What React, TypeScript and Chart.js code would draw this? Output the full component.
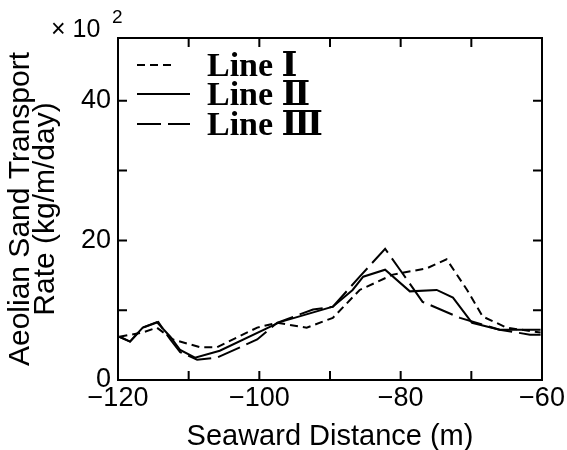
import React, { useEffect, useRef } from "react";
import { Chart, registerables } from "chart.js";

Chart.register(...registerables);

const lineIX = [-119.8, -116.5, -114.5, -112.2, -108.4, -106.0, -100.3, -97.5, -93.3, -89.6, -85.8, -81.1, -76.3, -73.5, -70.6, -68.4, -65.0, -60.2];
const lineIY = [6.2, 6.8, 7.5, 5.8, 4.7, 4.7, 7.5, 8.2, 7.5, 8.9, 12.9, 15.1, 16.0, 17.3, 12.9, 9.1, 7.5, 6.8];

const lineIIX = [-119.8, -118.3, -116.5, -114.5, -112.6, -111.2, -109.1, -105.6, -97.1, -89.6, -86.8, -85.3, -82.2, -78.7, -74.9, -72.6, -69.9, -66.0, -60.2];
const lineIIY = [6.2, 5.5, 7.5, 8.3, 6.2, 4.3, 3.2, 4.2, 8.3, 10.5, 12.9, 14.8, 15.8, 12.7, 12.9, 11.8, 8.2, 7.2, 7.2];

const lineIIIX = [-119.8, -118.3, -116.5, -114.3, -112.6, -111.2, -108.8, -106.0, -100.3, -97.5, -92.4, -89.6, -85.8, -82.2, -80.1, -76.9, -71.6, -66.0, -61.7, -60.2];
const lineIIIY = [6.2, 5.5, 7.5, 8.3, 5.8, 4.0, 2.9, 3.2, 5.8, 8.2, 10.1, 10.5, 14.8, 18.8, 15.8, 11.2, 8.9, 7.2, 6.5, 6.5];

const seriesLabels = ["Line Ⅰ", "Line Ⅱ", "Line Ⅲ"];
const xLabelTicks = [-120, -100, -80, -60];
const yLabelTicks = [0, 20, 40];

const toPoints = (xs: number[], ys: number[]) => xs.map((x, i) => ({ x, y: ys[i] }));

const framePlugin = {
  id: "frameTicks",
  afterDatasetsDraw(chart: any) {
    const { ctx, chartArea, scales } = chart;
    const { left, right, top, bottom } = chartArea;
    ctx.save();
    ctx.strokeStyle = "#000";
    ctx.lineWidth = 2;
    ctx.setLineDash([]);
    ctx.strokeRect(left, top, right - left, bottom - top);
    const len = 9;
    ctx.beginPath();
    scales.x.ticks.forEach((t: any) => {
      const px = scales.x.getPixelForValue(t.value);
      if (Math.abs(px - left) < 2 || Math.abs(px - right) < 2) return;
      ctx.moveTo(px, bottom);
      ctx.lineTo(px, bottom - len);
      ctx.moveTo(px, top);
      ctx.lineTo(px, top + len);
    });
    scales.y.ticks.forEach((t: any) => {
      const py = scales.y.getPixelForValue(t.value);
      if (Math.abs(py - bottom) < 2 || Math.abs(py - top) < 2) return;
      ctx.moveTo(left, py);
      ctx.lineTo(left + len, py);
      ctx.moveTo(right, py);
      ctx.lineTo(right - len, py);
    });
    ctx.stroke();

    // multiplier text
    ctx.fillStyle = "#000";
    ctx.textBaseline = "middle";
    ctx.textAlign = "left";
    ctx.font = "25px 'Liberation Sans', Arial, sans-serif";
    ctx.fillText("× 10", left - 67, top - 8);
    ctx.font = "19px 'Liberation Sans', Arial, sans-serif";
    ctx.fillText("2", left - 6, top - 20);

    // legend
    const rows = [65, 94, 124];
    chart.data.datasets.forEach((ds: any, i: number) => {
      const y = rows[i];
      ctx.beginPath();
      ctx.lineWidth = 2;
      ctx.setLineDash(ds.borderDash || []);
      ctx.moveTo(left + 19, y);
      ctx.lineTo(left + (i === 0 ? 57 : 72), y);
      ctx.stroke();
      ctx.setLineDash([]);
      ctx.font = "bold 34px 'Liberation Serif', 'DejaVu Serif', 'Times New Roman', serif";
      ctx.textBaseline = "middle";
      ctx.fillText(ds.label, left + 89, y + 2);
    });
    ctx.restore();
  },
};

export default function App() {
  const canvasRef = useRef<HTMLCanvasElement | null>(null);

  useEffect(() => {
    if (!canvasRef.current) return;
    const font = "'Liberation Sans', Arial, sans-serif";
    const chart = new Chart(canvasRef.current, {
      type: "line",
      data: {
        datasets: [
          {
            label: seriesLabels[0],
            data: toPoints(lineIX, lineIY),
            borderColor: "#000",
            borderWidth: 2,
            borderDash: [8, 5],
            pointRadius: 0,
            tension: 0,
            fill: false,
          },
          {
            label: seriesLabels[1],
            data: toPoints(lineIIX, lineIIY),
            borderColor: "#000",
            borderWidth: 2,
            pointRadius: 0,
            tension: 0,
            fill: false,
          },
          {
            label: seriesLabels[2],
            data: toPoints(lineIIIX, lineIIIY),
            borderColor: "#000",
            borderWidth: 2,
            borderDash: [24, 7],
            pointRadius: 0,
            tension: 0,
            fill: false,
          },
        ],
      },
      options: {
        responsive: false,
        animation: false,
        devicePixelRatio: 1,
        layout: { padding: { top: 38, right: 25, left: 0, bottom: 0 } },
        plugins: {
          legend: { display: false },
          tooltip: { enabled: false },
        },
        scales: {
          x: {
            type: "linear",
            min: -120,
            max: -60,
            grid: { display: false, drawTicks: false },
            border: { display: false },
            ticks: {
              stepSize: 10,
              color: "#000",
              padding: 2,
              maxRotation: 0,
              autoSkip: false,
              font: { family: font, size: 27 },
              callback: (v: any) => (xLabelTicks.includes(Number(v)) ? String(v).replace("-", "−") : ""),
            },
            title: {
              display: true,
              text: "Seaward Distance (m)",
              color: "#000",
              font: { family: font, size: 29, lineHeight: 1 },
              padding: { top: 0, bottom: -1 },
            },
            afterFit: (s: any) => {
              s.height = 70;
            },
          },
          y: {
            min: 0,
            max: 49,
            grid: { display: false, drawTicks: false },
            border: { display: false },
            ticks: {
              stepSize: 10,
              color: "#000",
              padding: 7,
              autoSkip: false,
              font: { family: font, size: 27 },
              callback: (v: any) => (yLabelTicks.includes(Number(v)) ? String(v) : ""),
            },
            title: {
              display: true,
              text: ["Aeolian Sand Transport", "Rate (kg/m/day)"],
              color: "#000",
              font: { family: font, size: 30, lineHeight: 0.84 },
              padding: { top: 8, bottom: 0 },
            },
            afterFit: (s: any) => {
              s.width = 118;
            },
          },
        },
      },
      plugins: [framePlugin],
    });
    return () => chart.destroy();
  }, []);

  return (
    <div style={{ position: "fixed", left: 0, top: 0, width: 567, height: 450, background: "#fff" }}>
      <canvas ref={canvasRef} width={567} height={450} />
    </div>
  );
}
